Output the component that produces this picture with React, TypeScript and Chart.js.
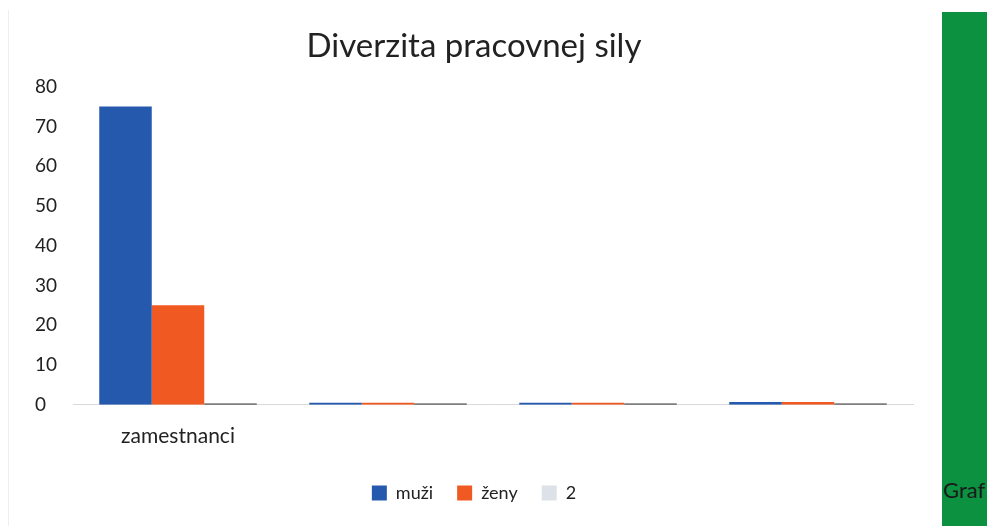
import React, { useEffect, useRef } from "react";
import { Chart, registerables } from "chart.js";

Chart.register(...registerables);

const categories = ["zamestnanci", "", "", ""];
const muzi = [75, 0.5, 0.5, 0.7];
const zeny = [25, 0.5, 0.5, 0.7];
const dva = [0.3, 0.3, 0.3, 0.3];
const yTicks = [0, 10, 20, 30, 40, 50, 60, 70, 80];

const FONT = "Lato, 'Open Sans', sans-serif";

export default function App() {
  const ref = useRef<HTMLCanvasElement | null>(null);
  useEffect(() => {
    if (!ref.current) return;
    const chart = new Chart(ref.current, {
      type: "bar",
      data: {
        labels: categories,
        datasets: [
          { label: "muži", data: muzi, backgroundColor: "#2559ad", borderWidth: 0 },
          { label: "ženy", data: zeny, backgroundColor: "#f05a22", borderWidth: 0 },
          { label: "2", data: dva, backgroundColor: "#3a3a3a", borderWidth: 0 },
        ],
      },
      options: {
        animation: false,
        responsive: false,
        maintainAspectRatio: false,
        layout: { padding: { left: 35, right: 17, top: 27, bottom: 14 } },
        datasets: { bar: { categoryPercentage: 0.75, barPercentage: 1 } },
        plugins: {
          title: {
            display: true,
            text: "Diverzita pracovnej sily",
            color: "#222",
            font: { family: FONT, size: 33, weight: "normal" },
            padding: { top: 0, bottom: 20 },
          },
          legend: {
            position: "bottom",
            labels: {
              color: "#222",
              font: { family: FONT, size: 18 },
              boxWidth: 15,
              boxHeight: 15,
              padding: 24,
              generateLabels: (c: any) => {
                const fills = ["#2559ad", "#f05a22", "#dde2e8"];
                return c.data.datasets.map((d: any, i: number) => ({
                  text: d.label,
                  fillStyle: fills[i],
                  strokeStyle: fills[i],
                  lineWidth: 0,
                  hidden: false,
                  datasetIndex: i,
                  fontColor: "#222",
                }));
              },
            },
          },
          tooltip: { enabled: false },
        },
        scales: {
          x: {
            grid: { display: false },
            border: { color: "#d9d9d9" },
            ticks: { color: "#222", font: { family: FONT, size: 21 }, padding: 11 },
          },
          y: {
            min: 0,
            max: 80,
            afterBuildTicks: (axis: any) => {
              axis.ticks = yTicks.map((v) => ({ value: v }));
            },
            afterFit: (axis: any) => {
              axis.width = 38;
            },
            grid: { display: false },
            border: { display: false },
            ticks: {
              color: "#222",
              font: { family: FONT, size: 19 },
              crossAlign: "far",
              padding: 10,
            },
          },
        },
      },
    });
    return () => chart.destroy();
  }, []);

  return (
    <div style={{ position: "fixed", left: 0, top: 0, width: 987, height: 526, background: "#fff", overflow: "hidden" }}>
      <div style={{ position: "absolute", left: 8, top: 10, width: 0, height: 516, borderLeft: "1px solid #eee" }} />
      <canvas ref={ref} width={930} height={526} style={{ position: "absolute", left: 0, top: 0 }} />
      <div
        style={{
          position: "absolute",
          left: 942,
          top: 12,
          width: 45,
          height: 514,
          background: "#0b9140",
          overflow: "hidden",
        }}
      >
        <div style={{ position: "absolute", left: 1, top: 464, fontFamily: FONT, fontSize: 22, color: "#1a1a1a", whiteSpace: "nowrap" }}>
          Graf
        </div>
      </div>
    </div>
  );
}
